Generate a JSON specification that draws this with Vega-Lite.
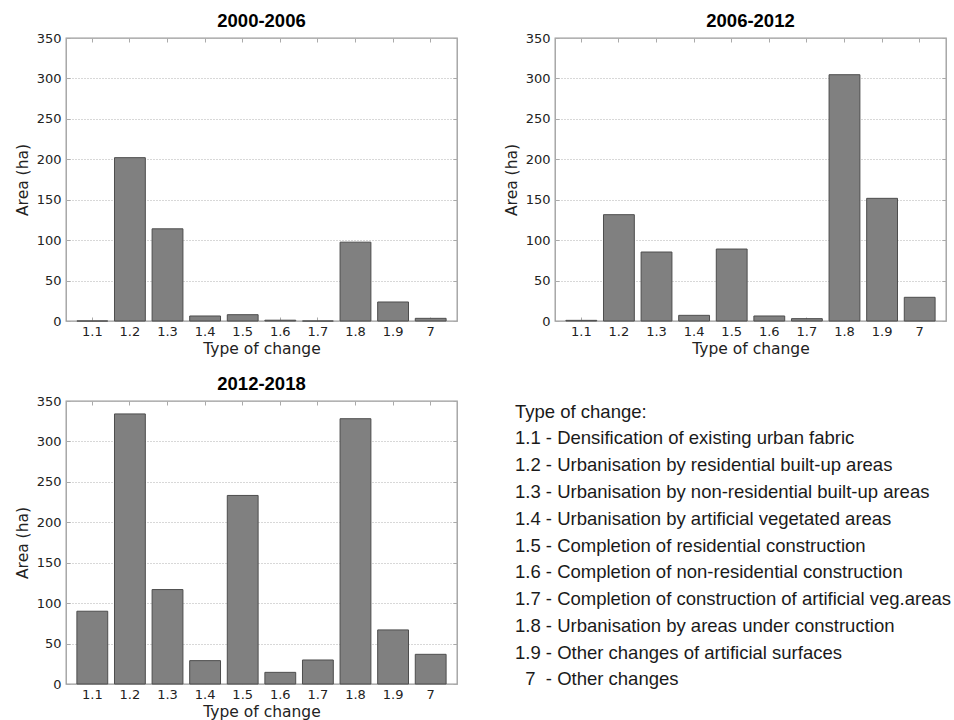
{
  "$schema": "https://vega.github.io/schema/vega-lite/v6.json",
  "padding": {"left": 14, "top": 10, "right": 5, "bottom": 0},
  "background": "white",
  "datasets": {
    "bars": [
      {"period": "2000-2006", "type": "1.1", "area": 0},
      {"period": "2000-2006", "type": "1.2", "area": 202},
      {"period": "2000-2006", "type": "1.3", "area": 114},
      {"period": "2000-2006", "type": "1.4", "area": 6.2},
      {"period": "2000-2006", "type": "1.5", "area": 7.8},
      {"period": "2000-2006", "type": "1.6", "area": 1},
      {"period": "2000-2006", "type": "1.7", "area": 0},
      {"period": "2000-2006", "type": "1.8", "area": 97.5},
      {"period": "2000-2006", "type": "1.9", "area": 23.5},
      {"period": "2000-2006", "type": "7", "area": 3.3},
      {"period": "2006-2012", "type": "1.1", "area": 0.8},
      {"period": "2006-2012", "type": "1.2", "area": 131.5},
      {"period": "2006-2012", "type": "1.3", "area": 85.3},
      {"period": "2006-2012", "type": "1.4", "area": 7},
      {"period": "2006-2012", "type": "1.5", "area": 89},
      {"period": "2006-2012", "type": "1.6", "area": 6.2},
      {"period": "2006-2012", "type": "1.7", "area": 2.9},
      {"period": "2006-2012", "type": "1.8", "area": 304.6},
      {"period": "2006-2012", "type": "1.9", "area": 151.7},
      {"period": "2006-2012", "type": "7", "area": 29.3},
      {"period": "2012-2018", "type": "1.1", "area": 90},
      {"period": "2012-2018", "type": "1.2", "area": 334},
      {"period": "2012-2018", "type": "1.3", "area": 116.8},
      {"period": "2012-2018", "type": "1.4", "area": 28.9},
      {"period": "2012-2018", "type": "1.5", "area": 233.2},
      {"period": "2012-2018", "type": "1.6", "area": 14.4},
      {"period": "2012-2018", "type": "1.7", "area": 29.7},
      {"period": "2012-2018", "type": "1.8", "area": 328.1},
      {"period": "2012-2018", "type": "1.9", "area": 66.9},
      {"period": "2012-2018", "type": "7", "area": 36.7}
    ],
    "legend": [
      {"i": 0, "line": "Type of change:"},
      {"i": 1, "line": "1.1 - Densification of existing urban fabric"},
      {"i": 2, "line": "1.2 - Urbanisation by residential built-up areas"},
      {"i": 3, "line": "1.3 - Urbanisation by non-residential built-up areas"},
      {"i": 4, "line": "1.4 - Urbanisation by artificial vegetated areas"},
      {"i": 5, "line": "1.5 - Completion of residential construction"},
      {"i": 6, "line": "1.6 - Completion of non-residential construction"},
      {"i": 7, "line": "1.7 - Completion of construction of artificial veg.areas"},
      {"i": 8, "line": "1.8 - Urbanisation by areas under construction"},
      {"i": 9, "line": "1.9 - Other changes of artificial surfaces"},
      {"i": 10, "line": "\u200b\u00a0\u00a07\u00a0\u00a0- Other changes"}
    ]
  },
  "config": {
    "font": "DejaVu Sans",
    "view": {"stroke": "#9a9a9a", "strokeWidth": 1.3},
    "axis": {
      "labelFont": "DejaVu Sans", "labelFontSize": 13, "labelColor": "#222",
      "titleFont": "DejaVu Sans", "titleFontSize": 15.5, "titleFontWeight": "normal", "titleColor": "#222",
      "domain": false, "tickColor": "#aaaaaa", "tickSize": -4, "grid": false
    },
    "title": {"font": "Liberation Sans", "fontSize": 18.5, "fontWeight": "bold", "color": "#000", "offset": 2}
  },
  "spacing": 15,
  "vconcat": [
    {
      "spacing": 44,
      "hconcat": [
        {
          "title": "2000-2006",
          "width": 391, "height": 283,
          "data": {"name": "bars"},
          "transform": [{"filter": "datum.period === '2000-2006'"}],
          "resolve": {"axis": {"x": "independent", "y": "independent"}},
          "layer": [
            {
              "mark": {"type": "bar", "fill": "#808080", "stroke": "#4d4d4d", "strokeWidth": 1},
              "encoding": {
                "x": {"field": "type", "type": "ordinal", "sort": null, "scale": {"paddingInner": 0.18, "paddingOuter": 0.29},
                      "axis": {"orient": "bottom", "title": "Type of change", "labelAngle": 0, "labelPadding": 8, "titlePadding": 3}},
                "y": {"field": "area", "type": "quantitative", "scale": {"domain": [0, 350]},
                      "axis": {"orient": "left", "title": "Area (ha)", "values": [0, 50, 100, 150, 200, 250, 300, 350], "grid": true, "gridDash": [1, 2], "gridColor": "#b0b0b0", "labelPadding": 9, "titlePadding": 6}}
              }
            },
            {
              "mark": {"type": "bar", "opacity": 0},
              "encoding": {
                "x": {"field": "type", "type": "ordinal", "sort": null, "axis": {"orient": "top", "labels": false, "title": null}},
                "y": {"field": "area", "type": "quantitative", "axis": {"orient": "right", "labels": false, "title": null, "values": [0, 50, 100, 150, 200, 250, 300, 350]}}
              }
            }
          ]
        },
        {
          "title": "2006-2012",
          "width": 391, "height": 283,
          "data": {"name": "bars"},
          "transform": [{"filter": "datum.period === '2006-2012'"}],
          "resolve": {"axis": {"x": "independent", "y": "independent"}},
          "layer": [
            {
              "mark": {"type": "bar", "fill": "#808080", "stroke": "#4d4d4d", "strokeWidth": 1},
              "encoding": {
                "x": {"field": "type", "type": "ordinal", "sort": null, "scale": {"paddingInner": 0.18, "paddingOuter": 0.29},
                      "axis": {"orient": "bottom", "title": "Type of change", "labelAngle": 0, "labelPadding": 8, "titlePadding": 3}},
                "y": {"field": "area", "type": "quantitative", "scale": {"domain": [0, 350]},
                      "axis": {"orient": "left", "title": "Area (ha)", "values": [0, 50, 100, 150, 200, 250, 300, 350], "grid": true, "gridDash": [1, 2], "gridColor": "#b0b0b0", "labelPadding": 9, "titlePadding": 6}}
              }
            },
            {
              "mark": {"type": "bar", "opacity": 0},
              "encoding": {
                "x": {"field": "type", "type": "ordinal", "sort": null, "axis": {"orient": "top", "labels": false, "title": null}},
                "y": {"field": "area", "type": "quantitative", "axis": {"orient": "right", "labels": false, "title": null, "values": [0, 50, 100, 150, 200, 250, 300, 350]}}
              }
            }
          ]
        }
      ]
    },
    {
      "spacing": 56,
      "hconcat": [
        {
          "title": "2012-2018",
          "width": 391, "height": 283,
          "data": {"name": "bars"},
          "transform": [{"filter": "datum.period === '2012-2018'"}],
          "resolve": {"axis": {"x": "independent", "y": "independent"}},
          "layer": [
            {
              "mark": {"type": "bar", "fill": "#808080", "stroke": "#4d4d4d", "strokeWidth": 1},
              "encoding": {
                "x": {"field": "type", "type": "ordinal", "sort": null, "scale": {"paddingInner": 0.18, "paddingOuter": 0.29},
                      "axis": {"orient": "bottom", "title": "Type of change", "labelAngle": 0, "labelPadding": 8, "titlePadding": 3}},
                "y": {"field": "area", "type": "quantitative", "scale": {"domain": [0, 350]},
                      "axis": {"orient": "left", "title": "Area (ha)", "values": [0, 50, 100, 150, 200, 250, 300, 350], "grid": true, "gridDash": [1, 2], "gridColor": "#b0b0b0", "labelPadding": 9, "titlePadding": 6}}
              }
            },
            {
              "mark": {"type": "bar", "opacity": 0},
              "encoding": {
                "x": {"field": "type", "type": "ordinal", "sort": null, "axis": {"orient": "top", "labels": false, "title": null}},
                "y": {"field": "area", "type": "quantitative", "axis": {"orient": "right", "labels": false, "title": null, "values": [0, 50, 100, 150, 200, 250, 300, 350]}}
              }
            }
          ]
        },
        {
          "width": 391, "height": 289,
          "view": {"stroke": null},
          "data": {"name": "legend"},
          "mark": {"type": "text", "align": "left", "baseline": "middle", "font": "Liberation Sans", "fontSize": 18.5, "color": "#1a1a1a"},
          "encoding": {
            "x": {"datum": 0, "type": "quantitative", "scale": {"domain": [0, 1]}, "axis": null},
            "y": {"field": "i", "type": "ordinal", "sort": null, "scale": {"type": "point", "padding": 0.4}, "axis": null},
            "text": {"field": "line"}
          }
        }
      ]
    }
  ]
}
